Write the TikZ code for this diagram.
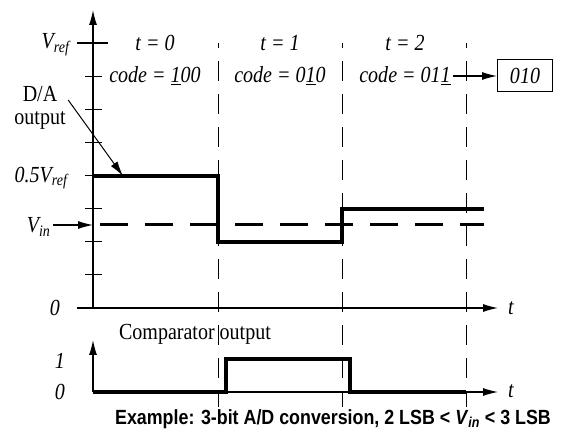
\documentclass[tikz,border=0pt]{standalone}
\usepackage{fontspec}
\setmainfont[FakeStretch=0.87]{Liberation Serif}
\setsansfont[FakeStretch=0.87]{Liberation Sans}
\usetikzlibrary{arrows.meta,positioning}

\tikzset{
  lbl/.style={font=\fontsize{23}{23}\selectfont\itshape,inner sep=2pt},
  txt/.style={font=\fontsize{23}{23}\selectfont,inner sep=2pt,align=center},
  wave/.style={line width=3.2pt},
  slot/.style={line width=0.9pt,dash pattern=on 20pt off 13pt,dash phase=15pt},
}

\begin{document}
\begin{tikzpicture}[x=1pt,y=-1pt,>={Latex[length=15pt,width=8pt]},line width=1.2pt]
\useasboundingbox (0,0) rectangle (573,435);
% upper graph: D/A output
\draw[->] (93,308) -- (93,10);
\draw[->] (77,308) -- (498,308);
\draw (77,43) -- (108,43);
\foreach \k in {1,...,7}
  \draw (85,43+33.125*\k) -- (102,43+33.125*\k);
\foreach \x in {218,342,466}
  \draw[slot] (\x,43) -- (\x,407);
\node[lbl,anchor=east] (vref) at (72,45) {V\textsubscript{ref}};
\node[lbl,anchor=east] (half) at (70,178) {0.5V\textsubscript{ref}};
\node[lbl,anchor=east] (vin) at (53,227) {V\textsubscript{in}};
\node[lbl] (zero) at (55,308) {0};
\node[lbl] (tax) at (511,308) {t};
\foreach \x/\t/\c in {155/0/\underline{1}00,280/1/0\underline{1}0,405/2/01\underline{1}}{
  \node[lbl] (t\t) at (\x,43) {t = \t};
  \node[lbl] (c\t) at (\x,76) {code = \c};
}
\node[lbl,draw,line width=1pt,minimum width=55pt,minimum height=32pt] (res) at (525,76) {010};
\draw[->] (c2.east) -- (res.west);
\draw[line width=3pt,dash pattern=on 28pt off 17pt,dash phase=38pt] (93,225) -- (484,225);
\draw[wave] (93,176) -- (218,176) -- (218,242) -- (342,242) -- (342,209) -- (484,209);
\coordinate (vinpt) at (93,225);
\draw[->] (vin.east|-vinpt) -- (vinpt);
\node[txt] (da) at (40,108) {D/A\\output};
\coordinate (dapt) at (123,176);
\draw[->,line width=1pt] ([yshift=8pt]da.east) -- (dapt);
% lower graph: comparator
\node[txt] (cmp) at (195,334) {Comparator output};
\draw[->] (93,392) -- (93,340);
\draw[->] (93,392) -- (498,392);
\node[lbl] (one) at (60,361) {1};
\node[lbl] (low) at (60,392) {0};
\node[lbl] (tbx) at (511,391) {t};
\draw[wave] (93,392) -- (226,392) -- (226,359) -- (350,359) -- (350,392) -- (466,392);
\node[font=\sffamily\bfseries\fontsize{20.5}{24}\selectfont] (cap) at (333,419)
  {Example: 3-bit A/D conversion, 2 LSB < \textit{V}\textsubscript{\textit{in}} < 3 LSB};
\end{tikzpicture}
\end{document}
